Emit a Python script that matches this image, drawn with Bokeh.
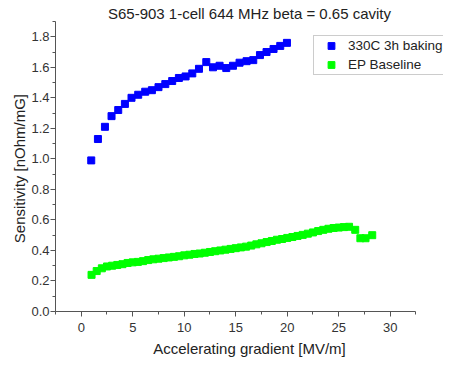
from bokeh.plotting import figure
from bokeh.models import Range1d, FixedTicker, Legend, LegendItem, CustomJSTickFormatter
from bokeh.embed import file_html
from bokeh.resources import INLINE

# Data
baked_x = [0.97, 1.62, 2.30, 2.94, 3.59, 4.24, 4.88, 5.53, 6.21, 6.86, 7.50, 8.16,
           8.83, 9.48, 10.13, 10.78, 11.43, 12.14, 12.79, 13.43, 14.08, 14.73,
           15.37, 16.05, 16.70, 17.35, 17.99, 18.67, 19.32, 19.97]
baked_y = [0.99, 1.13, 1.21, 1.28, 1.32, 1.36, 1.40, 1.42, 1.44, 1.45, 1.47, 1.49,
           1.51, 1.53, 1.54, 1.56, 1.59, 1.634, 1.60, 1.61, 1.595, 1.61,
           1.63, 1.64, 1.647, 1.68, 1.70, 1.72, 1.74, 1.76]

ep_x = [1.0, 1.5, 2.0, 2.5, 3.0, 3.5, 4.0, 4.5, 5.0, 5.5, 6.0, 6.5, 7.0, 7.5, 8.0,
        8.5, 9.0, 9.5, 10.0, 10.5, 11.0, 11.5, 12.0, 12.5, 13.0, 13.5, 14.0, 14.5,
        15.0, 15.5, 16.0, 16.5, 17.0, 17.5, 18.0, 18.5, 19.0, 19.5, 20.0, 20.5,
        21.0, 21.5, 22.0, 22.5, 23.0, 23.5, 24.0, 24.5, 25.0, 25.5, 26.0, 26.6,
        27.1, 27.6, 28.25]
ep_y = [0.24, 0.265, 0.283, 0.295, 0.30, 0.305, 0.31, 0.318, 0.322, 0.325, 0.33,
        0.337, 0.342, 0.346, 0.35, 0.354, 0.358, 0.362, 0.368, 0.372, 0.377, 0.38,
        0.385, 0.39, 0.395, 0.40, 0.405, 0.41, 0.415, 0.42, 0.425, 0.432, 0.44,
        0.447, 0.455, 0.462, 0.47, 0.475, 0.482, 0.488, 0.495, 0.502, 0.51, 0.518,
        0.527, 0.535, 0.542, 0.547, 0.55, 0.553, 0.555, 0.535, 0.48, 0.48, 0.50]

x_ticks = [0, 5, 10, 15, 20, 25, 30]
x_minor = [-2.5, 2.5, 7.5, 12.5, 17.5, 22.5, 27.5, 32.5]
y_ticks = [0.0, 0.2, 0.4, 0.6, 0.8, 1.0, 1.2, 1.4, 1.6, 1.8]
y_minor = [0.1, 0.3, 0.5, 0.7, 0.9, 1.1, 1.3, 1.5, 1.7, 1.9]

FONT = "Liberation Sans"

p = figure(frame_width=388, frame_height=290, output_backend="svg",
           toolbar_location=None,
           x_range=Range1d(-2.5, 35.17), y_range=Range1d(0, 1.9),
           title="S65-903 1-cell 644 MHz beta = 0.65 cavity",
           min_border_left=55, min_border_right=0, min_border_top=21,
           min_border_bottom=48)
p.outline_line_color = None
p.grid.visible = False
p.background_fill_color = "white"

p.title.text_font = FONT
p.title.text_font_size = "15px"
p.title.text_font_style = "normal"
p.title.text_color = "#222222"
p.title.align = "center"
p.title.standoff = 0

for ax in (p.xaxis[0], p.yaxis[0]):
    ax.axis_line_color = "#555555"
    ax.major_tick_line_color = "#555555"
    ax.minor_tick_line_color = "#555555"
    ax.major_tick_out = 5
    ax.major_tick_in = 0
    ax.minor_tick_out = 3
    ax.minor_tick_in = 0
    ax.major_label_text_font = FONT
    ax.major_label_text_font_size = "13px"
    ax.major_label_text_color = "#333333"
    ax.axis_label_text_font = FONT
    ax.axis_label_text_font_size = "15px"
    ax.axis_label_text_font_style = "normal"
    ax.axis_label_text_color = "#222222"

p.xaxis[0].major_label_standoff = 6
p.xaxis[0].axis_label_standoff = 5
p.yaxis[0].major_label_standoff = 1
p.yaxis[0].axis_label_standoff = 0

p.xaxis[0].bounds = (-2.5, 32.5)
p.xaxis[0].ticker = FixedTicker(ticks=x_ticks, minor_ticks=x_minor)
p.yaxis[0].ticker = FixedTicker(ticks=y_ticks, minor_ticks=y_minor)
p.yaxis[0].formatter = CustomJSTickFormatter(code="return tick.toFixed(1);")
p.xaxis[0].axis_label = "Accelerating gradient [MV/m]"
p.yaxis[0].axis_label = "Sensitivity  [nOhm/mG]"

r1 = p.scatter(baked_x, baked_y, marker="square", size=7, fill_color="#0000FF",
               line_color="#0000FF")
r2 = p.scatter(ep_x, ep_y, marker="square", size=7, fill_color="#00FF00",
               line_color="#00FF00")

legend = Legend(items=[LegendItem(label="330C 3h baking", renderers=[r1]),
                       LegendItem(label="EP Baseline", renderers=[r2])],
                location=(258, 236))
legend.label_text_font = FONT
legend.label_text_font_size = "13.5px"
legend.label_text_color = "#222222"
legend.border_line_color = "#999999"
legend.background_fill_alpha = 1.0
legend.padding = 1
legend.spacing = 2
legend.margin = 0
legend.glyph_width = 32
legend.glyph_height = 17
legend.label_height = 17
legend.label_standoff = 1
p.add_layout(legend, "center")

open("out.html", "w").write(file_html(p, INLINE))
